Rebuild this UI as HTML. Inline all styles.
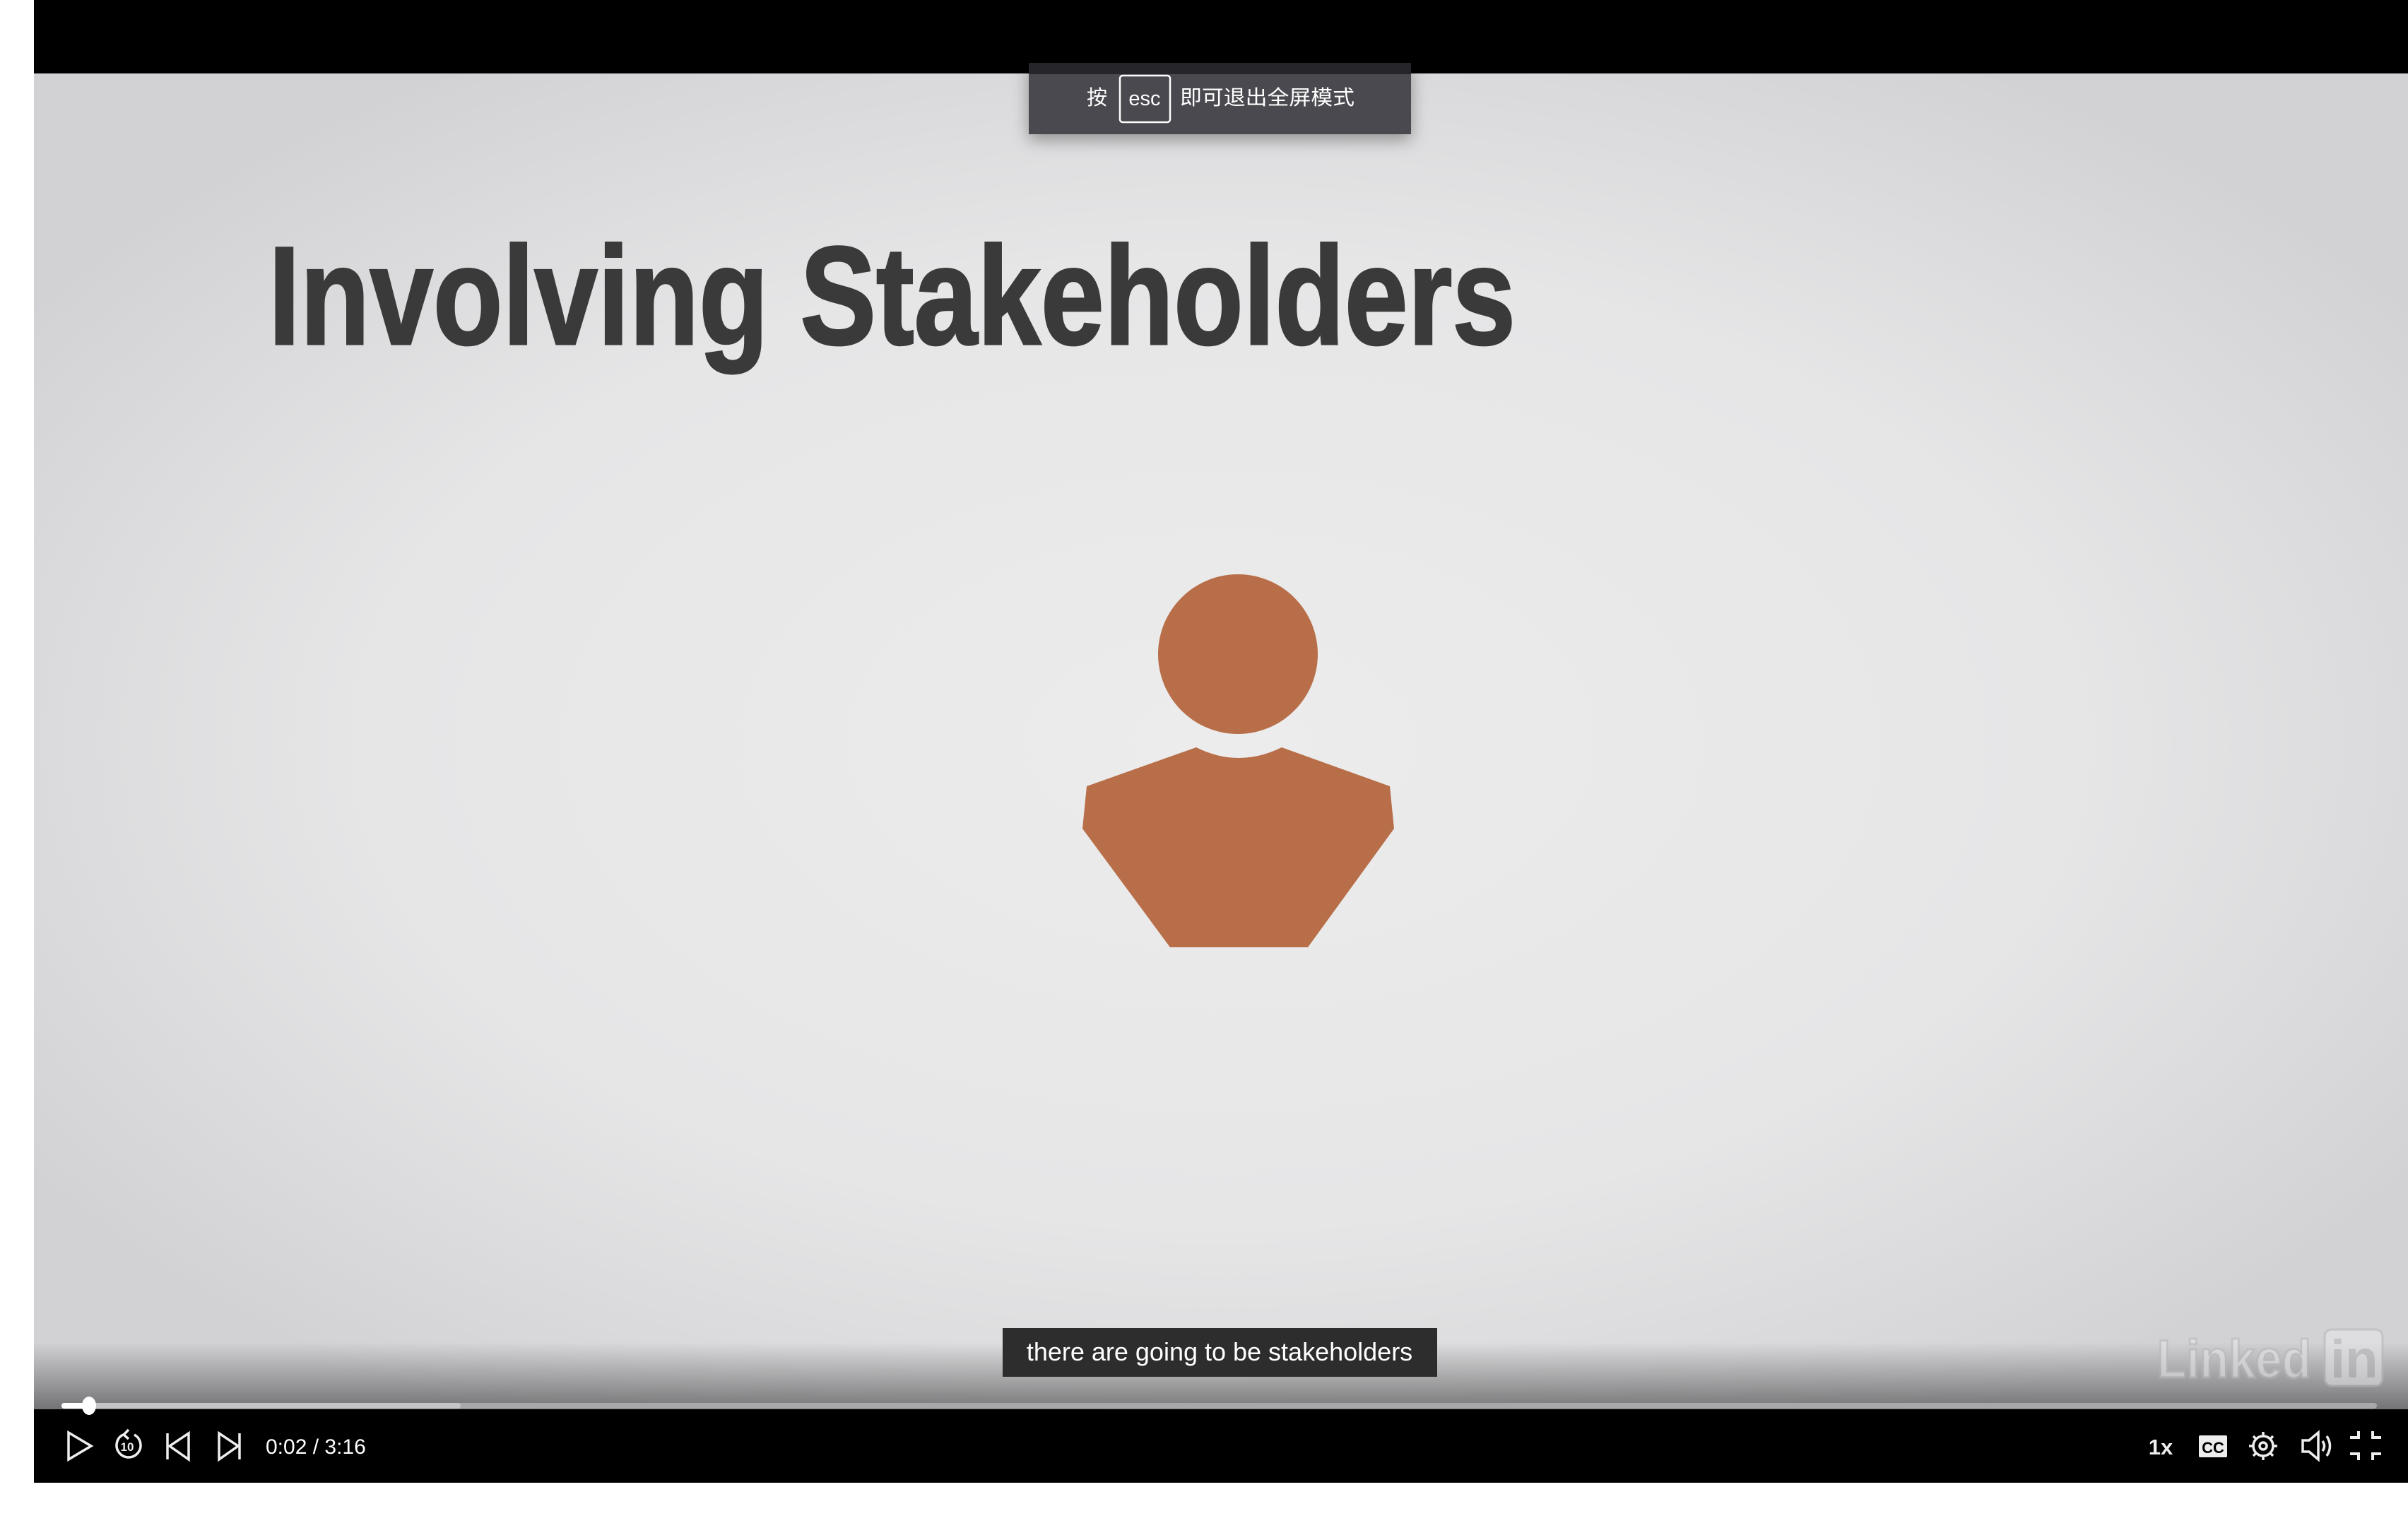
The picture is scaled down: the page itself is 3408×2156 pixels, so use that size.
<!DOCTYPE html>
<html><head><meta charset="utf-8"><style>
html,body{margin:0;padding:0;width:3408px;height:2156px;background:#fff;overflow:hidden;font-family:"Liberation Sans","Noto Sans CJK SC",sans-serif}
#stage{position:absolute;left:0;top:0}
</style></head><body>
<svg id="stage" width="3408" height="2156" viewBox="0 0 3408 2156">
<defs>
<radialGradient id="bg" cx="0.5" cy="0.5" r="0.6">
<stop offset="0" stop-color="#ececec"/><stop offset="0.6" stop-color="#e6e6e7"/><stop offset="1" stop-color="#d2d2d5"/>
</radialGradient>
<linearGradient id="shade" x1="0" y1="0" x2="0" y2="1">
<stop offset="0" stop-color="#000" stop-opacity="0"/><stop offset="1" stop-color="#000" stop-opacity="0.45"/>
</linearGradient>
<filter id="sh" x="-10%" y="-30%" width="120%" height="180%"><feDropShadow dx="0" dy="8" stdDeviation="12" flood-opacity="0.35"/></filter>
</defs>
<rect x="48" y="104" width="3360" height="1891" fill="url(#bg)"/>
<rect x="48" y="0" width="3360" height="104" fill="#000"/>
<text x="380" y="487" font-family="Liberation Sans Narrow, Liberation Sans, sans-serif" font-weight="bold" font-size="198" fill="#3a3a3b" stroke="#3a3a3b" stroke-width="3" textLength="1765" lengthAdjust="spacingAndGlyphs">Involving Stakeholders</text>
<g fill="#b86e48">
<circle cx="1752" cy="926" r="113"/>
<path d="M1693 1058 Q1753 1088 1814 1058 L1967 1113 L1973 1173 L1851 1341 L1656 1341 L1532 1173 L1538 1113 Z"/>
</g>
<g filter="url(#sh)">
<rect x="1456" y="89" width="541" height="101" fill="#484a4f"/>
<rect x="1456" y="89" width="541" height="16" fill="#25272b"/>
</g>
<text x="1538" y="148" font-size="29" fill="#fff">按</text>
<rect x="1585" y="107" width="71" height="66" rx="4" fill="none" stroke="#fff" stroke-width="2.5"/>
<text x="1620" y="149" font-size="29" fill="#fff" text-anchor="middle">esc</text>
<text x="1670" y="148" font-size="29" fill="#fff" textLength="247" lengthAdjust="spacingAndGlyphs">即可退出全屏模式</text>
<rect x="48" y="1900" width="3360" height="95" fill="url(#shade)"/>
<rect x="1419" y="1880" width="615" height="69" fill="#2d2d2d"/>
<text x="1726" y="1926" font-size="36" fill="#fff" text-anchor="middle">there are going to be stakeholders</text>
<g opacity="0.55">
<text x="3053" y="1950" font-size="76" font-weight="bold" fill="#e8e8ea" stroke="#b8b8bb" stroke-width="3" textLength="218" lengthAdjust="spacingAndGlyphs">Linked</text>
<rect x="3290" y="1882" width="82" height="80" rx="10" fill="#e8e8ea" stroke="#b8b8bb" stroke-width="3"/>
<text x="3298" y="1950" font-size="76" font-weight="bold" fill="#b8b8bb">in</text>
</g>
<rect x="48" y="1995" width="3360" height="104" fill="#000"/>
<rect x="87" y="1986" width="3277" height="8" rx="4" fill="#a8a8aa"/>
<rect x="87" y="1986" width="565" height="8" rx="4" fill="#c4c4c6"/>
<rect x="87" y="1986" width="40" height="8" rx="4" fill="#fff"/>
<ellipse cx="126" cy="1990" rx="10" ry="13" fill="#fff"/>
<g fill="none" stroke="#eee" stroke-width="3.5">
<path d="M97 2028 L129 2047 L97 2066 Z"/>
<g><path d="M174 2031 A17 17 0 1 0 190 2031"/><path d="M182 2024 L175 2031 L182 2037"/></g>
<path d="M237 2029 L237 2066 M267 2029 L240 2047 L267 2066 Z"/>
<path d="M339 2029 L339 2066 M310 2029 L337 2047 L310 2066 Z"/>
</g>
<text x="180" y="2054" font-size="17" font-weight="bold" fill="#eee" text-anchor="middle">10</text>
<text x="376" y="2058" font-size="30" fill="#fff">0:02 / 3:16</text>
<text x="3058" y="2059" font-size="31" font-weight="bold" fill="#eee" text-anchor="middle">1x</text>
<g>
<rect x="3112" y="2032" width="40" height="31" rx="2" fill="#eee"/>
<text x="3132" y="2057" font-size="22" font-weight="bold" fill="#000" text-anchor="middle">CC</text>
</g>
<g fill="none" stroke="#eee" stroke-width="3.5">
<circle cx="3203" cy="2047" r="14"/><circle cx="3203" cy="2047" r="5"/>
<path d="M3203 2027v6M3203 2061v6M3183 2047h6M3217 2047h6M3189 2033l4 4M3213 2057l4 4M3189 2061l4-4M3213 2037l4-4"/>
</g>
<g fill="none" stroke="#eee" stroke-width="3.5">
<path d="M3259 2039 L3268 2039 L3281 2028 L3281 2066 L3268 2055 L3259 2055 Z"/>
<path d="M3287 2040 Q3292 2047 3287 2054"/><path d="M3293 2033 Q3302 2047 3293 2061"/>
</g>
<g fill="none" stroke="#eee" stroke-width="4">
<path d="M3326 2035 h12 v-9 M3370 2035 h-12 v-9 M3326 2058 h12 v9 M3370 2058 h-12 v9"/>
</g>
</svg>
</body></html>
